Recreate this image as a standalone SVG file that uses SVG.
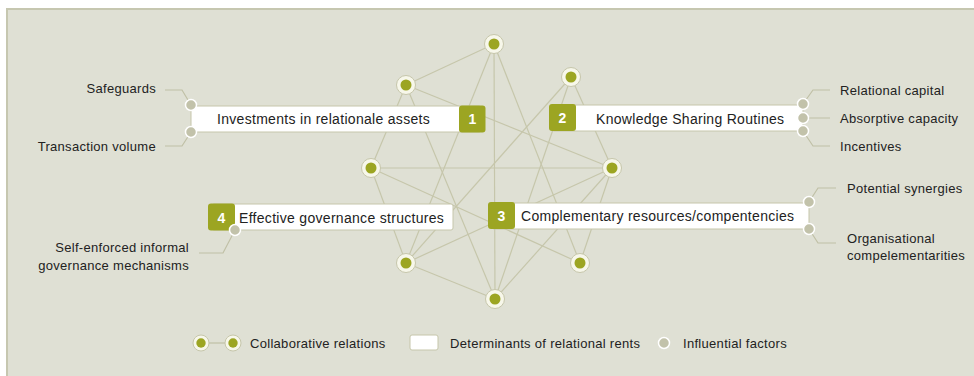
<svg xmlns="http://www.w3.org/2000/svg" width="974" height="376" viewBox="0 0 974 376">
<style>
.bg{fill:#dfe0d4;stroke:none}
.frame{fill:none;stroke:#c6c7b0;stroke-width:2}
.edge{stroke:#c6c6ab;stroke-width:1.2;fill:none}
.lead{stroke:#c0c0a6;stroke-width:1.2;fill:none}
.box{fill:#ffffff;stroke:#c6c6ab;stroke-width:1}
.badge{fill:#9ca522}
.num{font-family:"Liberation Sans",Arial,sans-serif;font-size:14px;font-weight:bold;fill:#ffffff;text-anchor:middle}
.t{font-family:"Liberation Sans",Arial,sans-serif;font-size:14px;letter-spacing:0.3px;fill:#222222}
.lbl{font-family:"Liberation Sans",Arial,sans-serif;font-size:13px;letter-spacing:0.3px;fill:#222222}
.ring{fill:#f7f7ea;stroke:#c6c6ab;stroke-width:1}
.dot{fill:#9ca522}
.inf{fill:#c2c2aa;stroke:#ffffff;stroke-width:1.5}
</style>
<defs>
<g id="nd"><circle class="ring" r="9.5"/><circle class="dot" r="5.5"/></g>
<g id="nds"><circle class="ring" r="8"/><circle class="dot" r="4.7"/></g>
</defs>
<rect class="bg" x="7" y="9" width="970" height="370"/>
<path class="frame" d="M7,376 V9 H974"/>

<g id="connectors">
<line class="edge" x1="494" y1="44" x2="406" y2="85"/>
<line class="edge" x1="494" y1="44" x2="406" y2="263"/>
<line class="edge" x1="494" y1="44" x2="495" y2="299"/>
<line class="edge" x1="494" y1="44" x2="580" y2="263"/>
<line class="edge" x1="406" y1="85" x2="371" y2="168"/>
<line class="edge" x1="406" y1="85" x2="612" y2="168"/>
<line class="edge" x1="406" y1="85" x2="495" y2="299"/>
<line class="edge" x1="571" y1="77" x2="406" y2="263"/>
<line class="edge" x1="571" y1="77" x2="495" y2="299"/>
<line class="edge" x1="571" y1="77" x2="612" y2="168"/>
<line class="edge" x1="371" y1="168" x2="612" y2="168"/>
<line class="edge" x1="371" y1="168" x2="406" y2="263"/>
<line class="edge" x1="371" y1="168" x2="580" y2="263"/>
<line class="edge" x1="612" y1="168" x2="406" y2="263"/>
<line class="edge" x1="612" y1="168" x2="495" y2="299"/>
<line class="edge" x1="612" y1="168" x2="580" y2="263"/>
<line class="edge" x1="406" y1="263" x2="495" y2="299"/>
</g>

<g id="box1">
<path class="lead" d="M165,90 H182 L191,105 M165,146 H182 L191,132"/>
<rect class="box" x="191" y="106" width="290" height="26" rx="2"/>
<rect class="badge" x="459" y="105.5" width="26.5" height="27" rx="3"/>
<text class="num" x="472.5" y="124">1</text>
<text class="t" x="217" y="124">Investments in relationale assets</text>
<circle class="inf" cx="191" cy="105" r="5.5"/>
<circle class="inf" cx="191" cy="132" r="5.5"/>
<text class="lbl" x="156" y="92.5" text-anchor="end">Safeguards</text>
<text class="lbl" x="156" y="151" text-anchor="end">Transaction volume</text>
</g>

<g id="box2">
<path class="lead" d="M803,104 L813,90 H830 M803,118 H830 M803,131 L813,146 H830"/>
<rect class="box" x="552" y="105" width="251" height="26" rx="2"/>
<rect class="badge" x="549" y="104" width="27" height="27" rx="3"/>
<text class="num" x="562.5" y="123">2</text>
<text class="t" x="596" y="123.5">Knowledge Sharing Routines</text>
<circle class="inf" cx="803" cy="104" r="5.5"/>
<circle class="inf" cx="803" cy="118" r="5.5"/>
<circle class="inf" cx="803" cy="131" r="5.5"/>
<text class="lbl" x="840" y="94.5">Relational capital</text>
<text class="lbl" x="840" y="122.5">Absorptive capacity</text>
<text class="lbl" x="840" y="150.5">Incentives</text>
</g>

<g id="box3">
<path class="lead" d="M809,202 L818,188 H836 M809,229 L818,243 H836"/>
<rect class="box" x="492" y="203" width="317" height="26" rx="2"/>
<rect class="badge" x="488" y="202" width="27" height="27" rx="3"/>
<text class="num" x="501.5" y="221">3</text>
<text class="t" x="521" y="221">Complementary resources/compentencies</text>
<circle class="inf" cx="809" cy="202" r="5.5"/>
<circle class="inf" cx="809" cy="229" r="5.5"/>
<text class="lbl" x="847" y="192.5">Potential synergies</text>
<text class="lbl" x="847" y="242.5">Organisational</text>
<text class="lbl" x="847" y="259.5">compelementarities</text>
</g>

<g id="box4">
<path class="lead" d="M235,230 L223,253 H199"/>
<rect class="box" x="212" y="204" width="241" height="26" rx="2"/>
<rect class="badge" x="208" y="203.5" width="27" height="27" rx="3"/>
<text class="num" x="221.5" y="222.5">4</text>
<text class="t" x="239" y="222.5">Effective governance structures</text>
<circle class="inf" cx="235" cy="230" r="5.5"/>
<text class="lbl" x="189" y="251.5" text-anchor="end">Self-enforced informal</text>
<text class="lbl" x="189" y="269.5" text-anchor="end">governance mechanisms</text>
</g>

<g id="nA"><use href="#nd" x="494" y="44"/></g>
<g id="nB"><use href="#nd" x="406" y="85"/></g>
<g id="nC"><use href="#nd" x="571" y="77"/></g>
<g id="nD"><use href="#nd" x="371" y="168"/></g>
<g id="nE"><use href="#nd" x="612" y="168"/></g>
<g id="nF"><use href="#nd" x="406" y="263"/></g>
<g id="nG"><use href="#nd" x="580" y="263"/></g>
<g id="nH"><use href="#nd" x="495" y="299"/></g>

<g id="legend">
<line class="lead" x1="201" y1="343" x2="233" y2="343"/>
<use href="#nds" x="201" y="343"/>
<use href="#nds" x="233" y="343"/>
<text class="lbl" x="250" y="347.5">Collaborative relations</text>
<rect class="box" x="410" y="335" width="28" height="15" rx="2"/>
<text class="lbl" x="450" y="347.5">Determinants of relational rents</text>
<circle class="inf" cx="664" cy="343" r="5.5"/>
<text class="lbl" x="683" y="347.5">Influential factors</text>
</g>
</svg>
